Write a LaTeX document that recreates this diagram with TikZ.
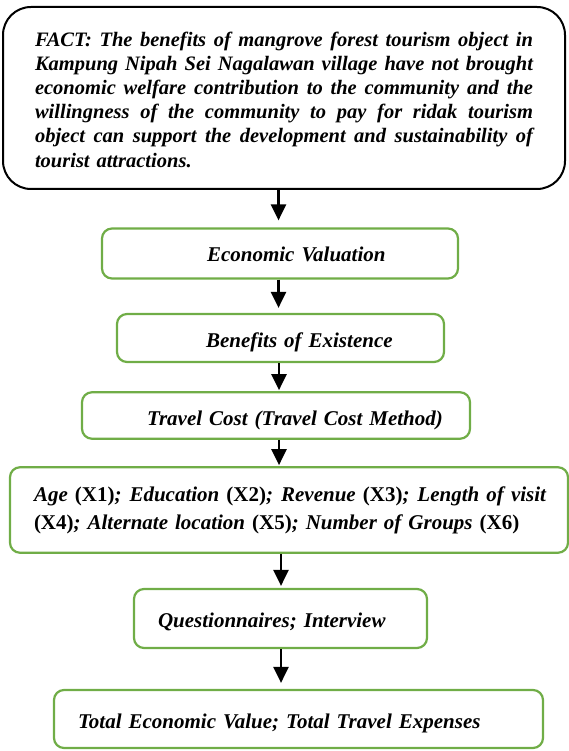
\documentclass[tikz,border=0pt]{standalone}
\usepackage{fontspec}
\setmainfont{Liberation Serif}
\usetikzlibrary{arrows.meta}
\definecolor{boxgreen}{HTML}{70AD47}
\newcommand\jline[2]{\leavevmode\hbox to #1{\spaceskip=0.25em plus 1fil\relax #2}}
\begin{document}
\begin{tikzpicture}[x=1pt,y=-1pt,
  every node/.style={font=\fontsize{21}{25}\selectfont\bfseries\itshape},
  factbox/.style={draw=black, line width=2pt, rounded corners=28pt, inner sep=0pt, align=left,
    font=\fontsize{20.5}{24.2}\selectfont\bfseries\itshape},
  greenbox/.style={draw=boxgreen, line width=2.2pt, rounded corners=10pt, inner sep=0pt, align=left},
  oneline/.style={text height=#1, text depth=0pt},
  arr/.style={line width=2.6pt, -{Triangle[width=15pt,length=16pt]}}]
\useasboundingbox (0,0) rectangle (569,751);
\node[factbox, minimum width=562pt, minimum height=182pt, text width=498pt] (fact) at (284,98)
 {\jline{498pt}{\rule{0pt}{17.5pt}FACT: The benefits of mangrove forest tourism object in}\\
  \jline{498pt}{Kampung Nipah Sei Nagalawan village have not brought}\\
  \jline{498pt}{economic welfare contribution to the community and the}\\
  \jline{498pt}{willingness of the community to pay for ridak tourism}\\
  \jline{498pt}{object can support the development and sustainability of}\\
  tourist attractions.};
\node[greenbox, oneline=15pt, minimum width=356pt, minimum height=50pt, text width=356pt] (econ) at (280,253.5)
 {\hspace*{105pt}Economic Valuation};
\node[greenbox, oneline=19pt, minimum width=327pt, minimum height=48pt, text width=327pt] (benef) at (280.5,338)
 {\hspace*{89pt}Benefits of Existence};
\node[greenbox, oneline=20pt, minimum width=388pt, minimum height=46.5pt, text width=388pt] (travel) at (276,415.5)
 {\hspace*{65pt}Travel Cost (Travel Cost Method)};
\node[greenbox, minimum width=558pt, minimum height=85.5pt, text width=558pt] (vars) at (289,510)
 {\hspace*{24pt}\jline{512pt}{Age \textup{(X1)}; Education \textup{(X2)}; Revenue \textup{(X3)}; Length of visit}\\[3pt]
  \hspace*{24pt}\textup{(X4)}; Alternate location \textup{(X5)}; Number of Groups \textup{(X6)}};
\node[greenbox, oneline=18.5pt, minimum width=293pt, minimum height=59pt, text width=293pt] (quest) at (280.5,618.5)
 {\hspace*{24pt}Questionnaires; Interview};
\node[greenbox, oneline=18pt, minimum width=489pt, minimum height=58pt, text width=489pt] (total) at (298.5,719)
 {\hspace*{24pt}Total Economic Value; Total Travel Expenses};
\coordinate (ax) at (278.5,0);
\coordinate (cx) at (279,0);
\coordinate (bx) at (281,0);
\draw[arr, shorten >=7pt] (fact.south -| ax) -- (econ.north -| ax);
\draw[arr, shorten >=5pt] (econ.south -| ax) -- (benef.north -| ax);
\draw[arr, shorten >=1pt] (benef.south -| cx) -- (travel.north -| cx);
\draw[arr, shorten >=1pt] (travel.south -| cx) -- (vars.north -| cx);
\draw[arr, shorten >=2pt] (vars.south -| bx) -- (quest.north -| bx);
\draw[arr, shorten >=6pt] (quest.south -| bx) -- (total.north -| bx);
\end{tikzpicture}
\end{document}
